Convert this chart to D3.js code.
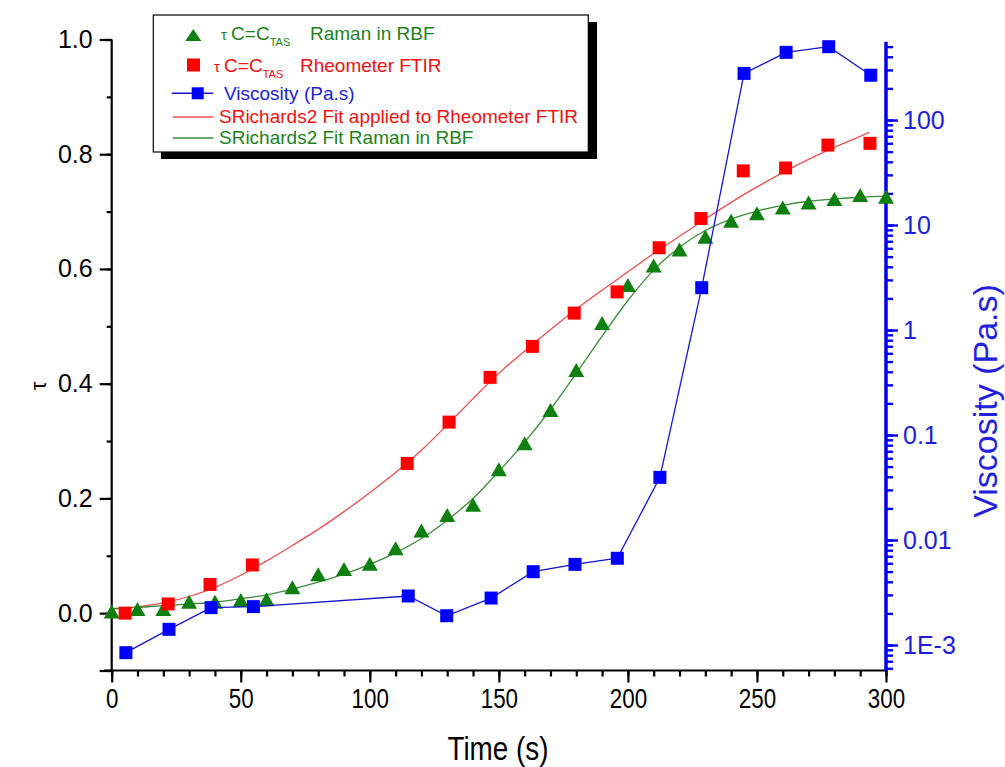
<!DOCTYPE html>
<html><head><meta charset="utf-8">
<script src="https://cdn.jsdelivr.net/npm/d3@7/dist/d3.min.js"></script>
<style>body{margin:0;background:#fff}svg{display:block}text{font-family:"Liberation Sans",Arial,sans-serif}</style>
</head><body>
<svg id="c" width="1005" height="767"></svg>
<script>
// ---- data ----
const ramanTime = [0,10,20,30,40,50,60,70,80,90,100,110,120,130,140,150,160,170,180,190,200,210,220,230,240,250,260,270,280,290,300];
const ramanTau  = [0.003,0.007,0.007,0.020,0.020,0.023,0.024,0.045,0.068,0.077,0.086,0.113,0.144,0.171,0.189,0.251,0.296,0.354,0.424,0.506,0.572,0.606,0.634,0.656,0.684,0.697,0.707,0.716,0.722,0.729,0.726];
const ftirTime = [5.2,21.9,38.1,54.5,114.5,130.7,146.6,163,179.2,195.8,212.1,228.3,244.7,261.1,277.5,293.8];
const ftirTau  = [0.000,0.016,0.050,0.084,0.261,0.333,0.411,0.465,0.523,0.560,0.637,0.688,0.771,0.776,0.816,0.819];
const viscTime = [5.5,22.2,38.5,54.9,114.9,129.8,147,163.3,179.5,195.9,212.4,228.6,245,261.3,277.8,294.1];
const viscValue = [0.000845,0.00141,0.00227,0.00232,0.00293,0.0019,0.0028,0.00499,0.00586,0.0067,0.0395,2.53,278,441,499,267];
const fitFtirTime = [0,10,20,30,40,50,60,70,80,90,100,110,120,130,140,150,160,170,180,190,200,210,220,230,240,250,260,270,280,290,293.5];
const fitFtirTau  = [0.007,0.011,0.018,0.029,0.045,0.066,0.091,0.118,0.146,0.177,0.210,0.245,0.284,0.328,0.374,0.418,0.457,0.494,0.530,0.563,0.595,0.627,0.657,0.687,0.716,0.743,0.768,0.791,0.812,0.831,0.838];
const fitRamanTime = [0,10,20,30,40,50,60,70,80,90,100,110,120,130,140,150,160,170,180,190,200,210,220,230,240,250,260,270,280,290,300];
const fitRamanTau  = [0.008,0.010,0.013,0.016,0.019,0.025,0.032,0.042,0.054,0.068,0.085,0.105,0.130,0.162,0.200,0.247,0.298,0.355,0.418,0.483,0.545,0.598,0.638,0.667,0.687,0.701,0.711,0.718,0.722,0.725,0.727];
const xTicks = [0,50,100,150,200,250,300];
const leftTicks = [0,0.2,0.4,0.6,0.8,1.0];
const rightTicks = [0.001,0.01,0.1,1,10,100];
const rightTickLabels = ["1E-3","0.01","0.1","1","10","100"];
const legendLabels = ["Raman in RBF","Rheometer FTIR","Viscosity (Pa.s)","SRichards2 Fit applied to Rheometer FTIR","SRichards2 Fit  Raman in RBF"];

// ---- setup ----
const svg = d3.select("#c");
const x = d3.scaleLinear().domain([0,300]).range([111.7,886]);
const yL = d3.scaleLinear().domain([-0.1,1.0]).range([670.5,39.5]);
const yR = d3.scaleLog().domain([5.78e-4,557]).range([670,41.7]);
const GREEN = "#0f7f0f", RED = "#ff0000", BLUE = "#0000ff";

// x axis
const gx = svg.append("g").attr("transform","translate(0,670.5)");
gx.call(d3.axisBottom(x).tickValues(d3.range(0,301,10)).tickSize(6).tickFormat(""));
gx.select(".domain").remove();
const gx2 = svg.append("g").attr("transform","translate(0,670.5)");
gx2.call(d3.axisBottom(x).tickValues(xTicks).tickSize(12).tickPadding(6).tickFormat(d3.format("d")));
gx2.select(".domain").attr("d","M104,0H886");
[gx,gx2].forEach(g=>g.selectAll("line,path").attr("stroke","#000").attr("stroke-width",2.2));
gx2.selectAll("text").attr("font-size",28).attr("fill","#000").attr("transform","scale(0.8,1)");

// left axis
const gl = svg.append("g").attr("transform","translate(111.7,0)");
gl.call(d3.axisLeft(yL).tickValues(d3.range(-0.1,1.01,0.1).map(v=>+v.toFixed(2))).tickSize(5).tickFormat(""));
gl.select(".domain").remove();
const gl2 = svg.append("g").attr("transform","translate(111.7,0)");
gl2.call(d3.axisLeft(yL).tickValues([-0.1].concat(leftTicks)).tickSize(12).tickPadding(7)
  .tickFormat(d=> d<0 ? "" : d3.format(".1f")(d)));
gl2.select(".domain").attr("d","M0,39.5V671.5");
[gl,gl2].forEach(g=>g.selectAll("line,path").attr("stroke","#000").attr("stroke-width",2.2));
gl2.selectAll("text").attr("font-size",25).attr("fill","#000");

// right axis (log)
const minorR = [];
for (let e=-4;e<=2;e++) for (let m=1;m<=9;m++){ const v=m*Math.pow(10,e); if(v>=5.78e-4 && v<=557) minorR.push(v); }
const gr = svg.append("g").attr("transform","translate(886,0)");
gr.call(d3.axisRight(yR).tickValues(minorR).tickSize(7).tickFormat(""));
gr.select(".domain").remove();
const gr2 = svg.append("g").attr("transform","translate(886,0)");
gr2.call(d3.axisRight(yR).tickValues(rightTicks).tickSize(12).tickPadding(5).tickFormat((d,i)=>rightTickLabels[i]));
gr2.select(".domain").attr("d","M0,41.7V671");
[gr,gr2].forEach(g=>g.selectAll("line,path").attr("stroke","#0000ee").attr("stroke-width",2.4));
gr2.select(".domain").attr("stroke-width",3.5);
gr2.selectAll("text").attr("font-size",25).attr("fill","#1e1ed8");

// axis titles
svg.append("text").attr("x",498).attr("y",760).attr("text-anchor","middle")
  .attr("font-size",34).attr("transform","translate(498,0) scale(0.82,1) translate(-498,0)").text("Time (s)");
svg.append("text").attr("transform","translate(46,386) rotate(-90)").attr("text-anchor","middle")
  .attr("font-size",22).text("τ");
svg.append("text").attr("transform","translate(997,401) rotate(-90)").attr("text-anchor","middle")
  .attr("font-size",34).attr("fill","#2222dd").text("Viscosity (Pa.s)");

// fits
const lineL = (xs,ys)=> d3.line().curve(d3.curveMonotoneX).x((d,i)=>x(xs[i])).y((d,i)=>yL(ys[i]))(xs);
svg.append("path").attr("d",lineL(fitFtirTime,fitFtirTau)).attr("fill","none").attr("stroke","#e85050").attr("stroke-width",1.3);
svg.append("path").attr("d",lineL(fitRamanTime,fitRamanTau)).attr("fill","none").attr("stroke","#3d8a3d").attr("stroke-width",1.3);

// markers
const tri = (w,h)=>`M0,${-h/2}L${w/2},${h/2}L${-w/2},${h/2}Z`;
svg.append("g").selectAll("path").data(ramanTime).join("path")
  .attr("d",tri(16,14)).attr("fill",GREEN)
  .attr("transform",(d,i)=>`translate(${x(d)},${yL(ramanTau[i])})`);
svg.append("g").selectAll("rect").data(ftirTime).join("rect")
  .attr("x",d=>x(d)-6.5).attr("y",(d,i)=>yL(ftirTau[i])-6.5).attr("width",13).attr("height",13).attr("fill",RED);

// viscosity
svg.append("path").attr("d",d3.line().x((d,i)=>x(viscTime[i])).y((d,i)=>yR(viscValue[i]))(viscTime))
  .attr("fill","none").attr("stroke","#1515cc").attr("stroke-width",1.3);
svg.append("g").selectAll("rect").data(viscTime).join("rect")
  .attr("x",d=>x(d)-6.5).attr("y",(d,i)=>yR(viscValue[i])-6.5).attr("width",13).attr("height",13).attr("fill",BLUE);

// legend
const lg = svg.append("g");
lg.append("rect").attr("x",161).attr("y",22).attr("width",436).attr("height",137).attr("fill","#000");
lg.append("rect").attr("x",153.3).attr("y",15).attr("width",435).attr("height",137).attr("fill","#fff").attr("stroke","#000").attr("stroke-width",1.2);
lg.append("path").attr("d",tri(16,12)).attr("fill",GREEN).attr("transform","translate(193.3,35)");
lg.append("rect").attr("x",187).attr("y",58.5).attr("width",13).attr("height",13).attr("fill",RED);
lg.append("line").attr("x1",171.7).attr("x2",213.3).attr("y1",93.3).attr("y2",93.3).attr("stroke","#1515cc").attr("stroke-width",1.5);
lg.append("rect").attr("x",191.7).attr("y",87.3).attr("width",12).attr("height",12).attr("fill",BLUE);
lg.append("line").attr("x1",172.7).attr("x2",213.3).attr("y1",117).attr("y2",117).attr("stroke","#e85050").attr("stroke-width",1.3);
lg.append("line").attr("x1",172.7).attr("x2",213.3).attr("y1",138).attr("y2",138).attr("stroke","#3d8a3d").attr("stroke-width",1.3);
function tauLabel(x0,yb,color,x1,label){
  const t = lg.append("text").attr("x",x0).attr("y",yb).attr("fill",color).attr("font-size",19);
  t.append("tspan").attr("font-size",15).text("τ ");
  t.append("tspan").text("C=C");
  t.append("tspan").attr("font-size",11).attr("dy",6).text("TAS");
  lg.append("text").attr("x",x1).attr("y",yb).attr("fill",color).attr("font-size",19).text(label);
}
tauLabel(221,40,"#1f7f1f",310,legendLabels[0]);
tauLabel(214,71.7,"#ee1111",300,legendLabels[1]);
lg.append("text").attr("x",224).attr("y",99.5).attr("fill","#2222cc").attr("font-size",19).text(legendLabels[2]);
lg.append("text").attr("x",219).attr("y",123).attr("fill","#ee1111").attr("font-size",19).text(legendLabels[3]);
lg.append("text").attr("x",219).attr("y",144).attr("fill","#1f7f1f").attr("font-size",19).text(legendLabels[4]);
</script>
</body></html>
